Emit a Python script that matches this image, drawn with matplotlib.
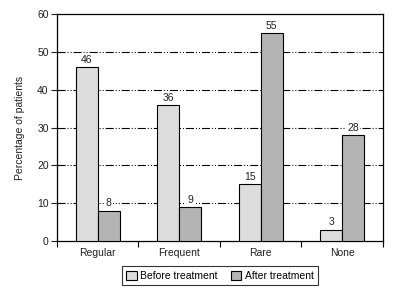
import matplotlib
matplotlib.use("Agg")
import matplotlib.pyplot as plt
import numpy as np

categories = ["Regular", "Frequent", "Rare", "None"]
before = [46, 36, 15, 3]
after = [8, 9, 55, 28]
series_names = ["Before treatment", "After treatment"]
yticks = [0, 10, 20, 30, 40, 50, 60]

plt.rcParams['font.family'] = ['Liberation Sans', 'DejaVu Sans']
plt.rcParams['lines.scale_dashes'] = False

fig = plt.figure(figsize=(4.0, 2.92), dpi=100)
ax = fig.add_axes([57/400, 51/292, 326/400, 227/292])

x = np.arange(len(categories))
w = 0.27
c_before = "#dcdcdc"
c_after = "#b4b4b4"
b1 = ax.bar(x - w/2, before, w, color=c_before, edgecolor="black", linewidth=0.8, zorder=3, label=series_names[0])
b2 = ax.bar(x + w/2, after, w, color=c_after, edgecolor="black", linewidth=0.8, zorder=3, label=series_names[1])

for rects, vals in ((b1, before), (b2, after)):
    for r, v in zip(rects, vals):
        ax.text(r.get_x() + r.get_width()/2, v + 0.6, str(v), ha="center", va="bottom",
                fontsize=7.5, color="#222222", zorder=4,
                bbox=dict(facecolor="white", edgecolor="none", pad=1.0))

ax.set_xlim(-0.5, len(categories) - 0.5)
ax.set_ylim(0, 60)
ax.set_yticks(yticks)
ax.tick_params(axis='y', labelsize=7.5, length=4, width=0.8, direction='out', pad=2, colors='#222222')

ax.set_xticks(x)
ax.set_xticklabels(categories)
ax.tick_params(axis='x', which='major', length=0, labelsize=7.5, pad=5, colors='#222222')
ax.set_xticks(np.arange(-0.5, len(categories), 1.0), minor=True)
ax.tick_params(axis='x', which='minor', length=4, width=0.8, direction='out')

for y in yticks[1:-1]:
    ax.axhline(y, color="black", linewidth=0.8, linestyle=(0, (5.8, 1.44, 0.72, 1.44, 0.72, 1.44)), zorder=1)

for s in ax.spines.values():
    s.set_linewidth(0.9)

ax.set_ylabel("Percentage of patients", fontsize=7.5, labelpad=9, color="#222222")

leg = ax.legend(loc="upper center", bbox_to_anchor=(0.5, -0.112), ncol=2, fontsize=7.5,
                frameon=True, fancybox=False, edgecolor="black", handlelength=1.0, handleheight=1.0,
                handletextpad=0.3, columnspacing=1.3, borderpad=0.4, borderaxespad=0)
leg.get_frame().set_linewidth(0.8)

fig.savefig("out.png", dpi=100)
